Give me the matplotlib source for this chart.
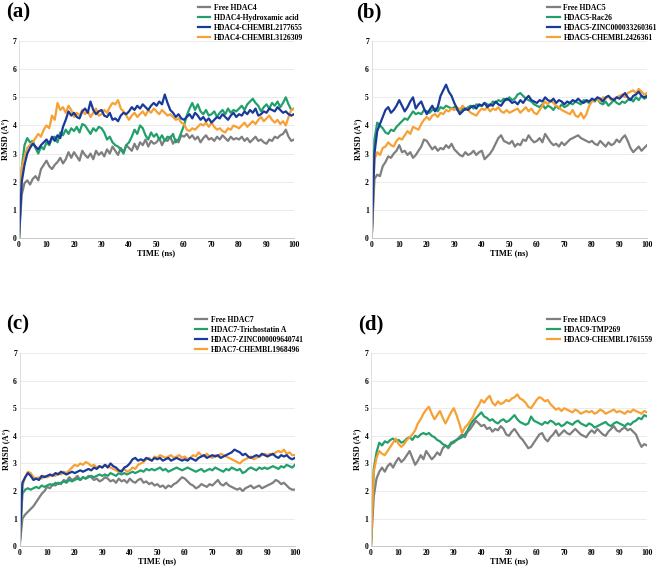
import matplotlib
matplotlib.use('Agg')
import matplotlib.pyplot as plt
import numpy as np

plt.rcParams['font.family'] = ['Liberation Serif', 'DejaVu Serif']
plt.rcParams['font.weight'] = 'bold'

time_ns = np.arange(0, 101, 1)

# ---- (a) HDAC4 ----
a_labels = ['Free HDAC4', 'HDAC4-Hydroxamic acid', 'HDAC4-CHEMBL2177655', 'HDAC4-CHEMBL3126309']
a_free = [0.00, 1.55, 1.95, 2.05, 1.90, 2.10, 2.20, 2.05, 2.45, 2.60,
          2.75, 2.55, 2.45, 2.60, 2.70, 2.85, 2.65, 2.80, 3.05, 2.85,
          3.05, 2.90, 2.75, 3.10, 2.95, 2.85, 3.00, 2.80, 3.10, 2.95,
          3.05, 2.90, 3.15, 3.00, 3.25, 3.10, 2.95, 3.20, 3.05, 3.30,
          3.20, 3.10, 3.35, 3.15, 3.40, 3.30, 3.50, 3.25, 3.45, 3.35,
          3.40, 3.55, 3.30, 3.50, 3.45, 3.60, 3.35, 3.50, 3.40, 3.65,
          3.60, 3.70, 3.55, 3.65, 3.50, 3.60, 3.40, 3.55, 3.65, 3.50,
          3.55, 3.45, 3.60, 3.50, 3.65, 3.55, 3.45, 3.60, 3.50, 3.55,
          3.50, 3.60, 3.45, 3.55, 3.40, 3.50, 3.60, 3.45, 3.50, 3.40,
          3.35, 3.50, 3.45, 3.60, 3.55, 3.65, 3.70, 3.85, 3.60, 3.45,
          3.50]
a_lig1 = [0.00, 2.50, 3.30, 3.55, 3.40, 3.45, 3.20, 3.00, 3.25, 3.15,
          3.40, 3.30, 3.55, 3.60, 3.40, 3.75, 3.65, 3.85, 3.70, 3.90,
          3.80, 3.95, 3.75, 4.05, 4.00, 3.85, 3.70, 3.90, 3.80, 3.95,
          3.90, 3.75, 3.50, 3.60, 3.40, 3.30, 3.25, 3.15, 3.00, 3.30,
          3.40, 3.60, 3.85, 3.70, 4.00, 3.90, 3.65, 3.50, 3.75, 3.60,
          3.70, 3.50, 3.65, 3.45, 3.60, 3.55, 3.70, 3.40, 3.50, 3.75,
          4.00, 4.35, 4.60, 4.80, 4.55, 4.75, 4.50, 4.40, 4.55, 4.35,
          4.40, 4.50, 4.30, 4.45, 4.55, 4.40, 4.60, 4.45, 4.55, 4.50,
          4.60, 4.70, 4.55, 4.75, 4.85, 4.95, 4.80, 4.70, 4.50, 4.65,
          4.75, 4.60, 4.80, 4.70, 4.85, 4.65, 4.80, 5.00, 4.75, 4.55,
          4.60]
a_lig2 = [0.00, 2.00, 2.60, 3.00, 3.20, 3.35, 3.25, 3.15, 3.30, 3.40,
          3.50, 3.35, 3.60, 3.45, 3.65, 3.55, 3.95, 4.20, 4.50, 4.35,
          4.45, 4.30, 4.25, 4.50, 4.60, 4.45, 4.85, 4.55, 4.40, 4.50,
          4.55, 4.35, 4.30, 4.45, 4.20, 4.25, 4.15, 4.35, 4.45, 4.40,
          4.50, 4.65, 4.55, 4.70, 4.60, 4.75, 4.65, 4.55, 4.70, 4.80,
          4.70, 4.85, 4.75, 5.10, 4.80, 4.55, 4.45, 4.30, 4.40, 4.25,
          4.20, 4.30, 4.40, 4.25, 4.45, 4.35, 4.20, 4.30, 4.15, 4.25,
          4.10, 4.20, 4.30, 4.25, 4.40, 4.30, 4.20, 4.35, 4.45, 4.30,
          4.40, 4.35, 4.50, 4.40, 4.55, 4.45, 4.60, 4.35, 4.40, 4.50,
          4.45, 4.60, 4.55, 4.50, 4.65, 4.55, 4.45, 4.50, 4.40, 4.35,
          4.40]
a_lig3 = [0.00, 2.50, 2.90, 3.20, 3.30, 3.40, 3.55, 3.70, 3.60, 3.85,
          4.00, 3.90, 4.35, 4.20, 4.80, 4.55, 4.65, 4.45, 4.70, 4.55,
          4.30, 4.45, 4.35, 4.55, 4.40, 4.50, 4.30, 4.45, 4.60, 4.35,
          4.40, 4.55, 4.45, 4.65, 4.80, 4.75, 4.90, 4.60, 4.50, 4.35,
          4.20, 4.35, 4.45, 4.30, 4.40, 4.50, 4.35, 4.55, 4.45, 4.60,
          4.50, 4.40, 4.55, 4.45, 4.35, 4.40, 4.30, 4.20, 4.25, 4.10,
          4.05, 3.85, 3.80, 3.90, 3.85, 3.95, 4.05, 4.00, 4.10, 3.95,
          4.10, 3.95, 3.85, 3.90, 3.80, 3.75, 3.90, 3.85, 4.00, 3.95,
          3.90, 4.00, 4.10, 3.95, 4.05, 4.15, 4.05, 4.20, 4.30, 4.15,
          4.25, 4.35, 4.20, 4.10, 4.20, 4.05, 4.15, 4.00, 4.30, 4.55,
          4.60]

# ---- (b) HDAC5 ----
b_labels = ['Free HDAC5', 'HDAC5-Rac26', 'HDAC5-ZINC000033260361', 'HDAC5-CHEMBL2426361']
b_free = [0.00, 2.10, 2.25, 2.20, 2.55, 2.70, 2.90, 2.85, 3.00, 3.10,
          3.30, 3.05, 3.10, 2.95, 3.05, 2.85, 2.95, 3.10, 3.25, 3.50,
          3.45, 3.30, 3.15, 3.25, 3.10, 3.20, 3.15, 3.30, 3.20, 3.35,
          3.15, 3.05, 2.95, 2.90, 3.05, 2.95, 3.00, 3.10, 2.95, 3.05,
          3.10, 2.80, 2.90, 3.00, 3.15, 3.35, 3.55, 3.65, 3.45, 3.40,
          3.35, 3.45, 3.25, 3.35, 3.30, 3.50, 3.45, 3.65, 3.50, 3.40,
          3.45, 3.55, 3.40, 3.70, 3.55, 3.40, 3.30, 3.35, 3.25, 3.40,
          3.30, 3.40, 3.50, 3.55, 3.60, 3.65, 3.55, 3.50, 3.45, 3.40,
          3.45, 3.35, 3.30, 3.45, 3.35, 3.25, 3.40, 3.30, 3.35, 3.50,
          3.40, 3.55, 3.65, 3.45, 3.20, 3.05, 3.15, 3.25, 3.10, 3.20,
          3.30]
b_lig1 = [0.00, 3.50, 4.10, 4.00, 3.90, 3.75, 3.70, 3.85, 3.80, 3.95,
          4.05, 4.15, 4.25, 4.20, 4.35, 4.50, 4.40, 4.45, 4.40, 4.55,
          4.50, 4.45, 4.55, 4.60, 4.50, 4.65, 4.60, 4.70, 4.65, 4.60,
          4.65, 4.55, 4.50, 4.60, 4.55, 4.65, 4.70, 4.60, 4.75, 4.70,
          4.70, 4.80, 4.75, 4.70, 4.85, 4.80, 4.90, 4.85, 4.95, 4.90,
          5.00, 4.90, 4.95, 5.10, 5.15, 5.05, 4.95, 4.90, 4.85, 4.75,
          4.70, 4.65, 4.75, 4.60, 4.70, 4.65, 4.55, 4.70, 4.60, 4.75,
          4.65, 4.70, 4.80, 4.75, 4.85, 4.80, 4.75, 4.90, 4.85, 4.80,
          4.90, 4.85, 4.95, 4.80, 4.75, 4.85, 4.70, 4.80, 4.90, 4.80,
          4.75, 4.85, 4.80, 4.90, 4.95, 4.85, 5.00, 4.90, 5.05, 4.95,
          5.00]
b_lig2 = [0.00, 3.00, 3.80, 4.05, 4.30, 4.55, 4.65, 4.45, 4.55, 4.70,
          4.90, 4.70, 4.50, 4.65, 4.85, 5.00, 4.60, 4.75, 4.85, 4.60,
          4.40, 4.55, 4.70, 4.50, 4.65, 5.05, 5.25, 5.45, 5.20, 5.05,
          4.80, 4.60, 4.40, 4.50, 4.60, 4.55, 4.65, 4.70, 4.60, 4.75,
          4.70, 4.80, 4.65, 4.75, 4.70, 4.85, 4.75, 4.70, 4.85, 4.95,
          4.90, 4.80, 4.85, 4.75, 4.90, 4.80, 4.95, 5.05, 4.90, 4.85,
          4.80, 4.90, 4.85, 5.00, 4.90, 4.85, 4.95, 4.80, 4.90, 4.85,
          4.75, 4.85, 4.80, 4.90, 4.85, 4.95, 4.85, 4.80, 4.90, 4.85,
          4.95, 4.90, 5.00, 4.95, 4.85, 5.00, 5.05, 4.95, 4.90, 5.00,
          4.95, 5.05, 5.15, 5.00, 4.90, 5.05, 5.10, 5.20, 5.05, 5.00,
          5.05]
b_lig3 = [0.00, 2.80, 3.05, 2.95, 3.20, 3.25, 3.40, 3.30, 3.25, 3.45,
          3.55, 3.50, 3.65, 3.80, 3.70, 3.95, 3.90, 3.85, 4.05, 4.20,
          4.30, 4.20, 4.35, 4.40, 4.30, 4.45, 4.40, 4.55, 4.50, 4.60,
          4.55, 4.65, 4.55, 4.70, 4.60, 4.55, 4.45, 4.40, 4.35, 4.50,
          4.60, 4.55, 4.65, 4.50, 4.60, 4.55, 4.65, 4.50, 4.45, 4.55,
          4.45, 4.50, 4.55, 4.60, 4.45, 4.55, 4.65, 4.50, 4.60, 4.45,
          4.40, 4.55, 4.70, 4.85, 4.75, 4.90, 4.80, 4.70, 4.65, 4.55,
          4.50, 4.45, 4.40, 4.55, 4.35, 4.30, 4.45, 4.25, 4.40, 4.70,
          4.85, 4.90, 4.95, 4.85, 5.00, 4.95, 5.05, 4.90, 4.95, 5.00,
          5.05, 5.10, 5.00, 5.15, 5.20, 5.25, 5.15, 5.30, 5.20, 5.10,
          5.15]

# ---- (c) HDAC7 ----
c_labels = ['Free HDAC7', 'HDAC7-Trichostatin A', 'HDAC7-ZINC000009640741', 'HDAC7-CHEMBL1968496']
c_free = [0.00, 1.00, 1.15, 1.25, 1.35, 1.45, 1.60, 1.75, 1.90, 2.00,
          2.15, 2.10, 2.25, 2.20, 2.30, 2.25, 2.40, 2.35, 2.50, 2.40,
          2.45, 2.55, 2.40, 2.50, 2.45, 2.55, 2.50, 2.40, 2.45, 2.35,
          2.40, 2.50, 2.45, 2.35, 2.40, 2.30, 2.45, 2.35, 2.40, 2.30,
          2.45, 2.35, 2.30, 2.40, 2.45, 2.30, 2.35, 2.25, 2.30, 2.20,
          2.25, 2.15, 2.20, 2.10, 2.20, 2.15, 2.25, 2.30, 2.40, 2.50,
          2.45, 2.35, 2.25, 2.20, 2.10, 2.15, 2.25, 2.20, 2.15, 2.25,
          2.20, 2.30, 2.40, 2.25, 2.20, 2.30, 2.20, 2.15, 2.10, 2.05,
          2.10, 2.00, 2.10, 2.15, 2.20, 2.10, 2.15, 2.20, 2.10, 2.15,
          2.20, 2.25, 2.30, 2.40, 2.35, 2.25, 2.30, 2.20, 2.10, 2.05,
          2.05]
c_lig1 = [0.00, 1.90, 2.05, 2.10, 2.05, 2.10, 2.15, 2.10, 2.20, 2.15,
          2.20, 2.25, 2.20, 2.30, 2.25, 2.30, 2.35, 2.30, 2.40, 2.35,
          2.40, 2.45, 2.40, 2.50, 2.45, 2.50, 2.55, 2.50, 2.55, 2.60,
          2.55, 2.60, 2.55, 2.65, 2.60, 2.55, 2.65, 2.60, 2.65, 2.60,
          2.65, 2.70, 2.65, 2.70, 2.75, 2.70, 2.80, 2.75, 2.80, 2.75,
          2.80, 2.85, 2.75, 2.80, 2.70, 2.75, 2.80, 2.85, 2.80, 2.75,
          2.80, 2.85, 2.80, 2.75, 2.70, 2.75, 2.80, 2.70, 2.75, 2.80,
          2.75, 2.85, 2.80, 2.75, 2.70, 2.80, 2.75, 2.85, 2.80, 2.75,
          2.80, 2.65, 2.70, 2.80, 2.85, 2.80, 2.75, 2.85, 2.80, 2.85,
          2.80, 2.85, 2.90, 2.85, 2.80, 2.90, 2.85, 2.95, 2.90, 2.85,
          2.95]
c_lig2 = [0.00, 2.30, 2.50, 2.65, 2.55, 2.40, 2.45, 2.40, 2.55, 2.50,
          2.55, 2.60, 2.55, 2.65, 2.60, 2.70, 2.65, 2.60, 2.65, 2.70,
          2.65, 2.70, 2.75, 2.70, 2.75, 2.80, 2.75, 2.85, 2.80, 2.90,
          2.85, 2.95, 2.85, 3.00, 2.90, 2.85, 2.75, 2.70, 2.85, 2.90,
          3.00, 3.15, 3.20, 3.10, 3.15, 3.10, 3.20, 3.15, 3.10, 3.20,
          3.15, 3.20, 3.10, 3.15, 3.20, 3.10, 3.15, 3.20, 3.15, 3.10,
          3.15, 3.10, 3.20, 3.15, 3.10, 3.20, 3.25, 3.30, 3.20, 3.25,
          3.30, 3.25, 3.30, 3.20, 3.25, 3.30, 3.35, 3.40, 3.50, 3.45,
          3.40, 3.30, 3.35, 3.25, 3.20, 3.25, 3.30, 3.25, 3.35, 3.30,
          3.25, 3.30, 3.35, 3.25, 3.20, 3.30, 3.25, 3.30, 3.20, 3.15,
          3.20]
c_lig3 = [0.00, 2.20, 2.50, 2.70, 2.65, 2.50, 2.45, 2.50, 2.45, 2.55,
          2.50, 2.55, 2.60, 2.55, 2.65, 2.60, 2.70, 2.65, 2.75, 2.85,
          2.95, 2.90, 3.00, 2.95, 3.05, 3.00, 2.90, 2.95, 2.85, 2.90,
          2.85, 2.95, 2.90, 2.85, 2.80, 2.75, 2.70, 2.75, 2.80, 2.70,
          2.75, 2.85, 2.80, 2.95, 3.00, 3.05, 3.15, 3.20, 3.10, 3.25,
          3.20, 3.30, 3.25, 3.20, 3.25, 3.30, 3.20, 3.25, 3.30, 3.20,
          3.25, 3.15, 3.20, 3.30, 3.25, 3.40, 3.30, 3.25, 3.35, 3.25,
          3.20, 3.30, 3.25, 3.35, 3.30, 3.25, 3.20, 3.15, 3.10, 3.05,
          3.00, 3.10, 3.15, 3.20, 3.25, 3.15, 3.20, 3.25, 3.30, 3.35,
          3.30, 3.35, 3.30, 3.40, 3.45, 3.40, 3.50, 3.35, 3.40, 3.30,
          3.30]

# ---- (d) HDAC9 ----
d_labels = ['Free HDAC9', 'HDAC9-TMP269', 'HDAC9-CHEMBL1761559']
d_free = [0.00, 1.80, 2.45, 2.70, 2.85, 2.70, 2.90, 3.00, 2.85, 3.05,
          3.20, 3.05, 3.15, 3.30, 3.45, 3.20, 2.95, 3.10, 3.30, 3.15,
          3.45, 3.30, 3.15, 3.25, 3.40, 3.30, 3.55, 3.65, 3.55, 3.70,
          3.75, 3.85, 3.95, 4.05, 3.95, 4.15, 4.25, 4.40, 4.55, 4.45,
          4.35, 4.40, 4.25, 4.30, 4.15, 4.25, 4.20, 4.35, 4.25, 4.05,
          4.00, 4.15, 4.25, 4.10, 3.95, 3.85, 3.70, 3.55, 3.60, 3.75,
          3.90, 4.05, 4.10, 3.90, 3.80, 3.95, 4.05, 4.20, 4.00, 4.10,
          4.20, 4.10, 4.05, 4.15, 4.25, 4.15, 4.05, 4.00, 3.95, 4.10,
          4.20, 4.10, 4.25, 4.15, 4.05, 4.00, 4.15, 4.25, 4.35, 4.20,
          4.15, 4.25, 4.30, 4.20, 4.25, 4.15, 4.05, 3.80, 3.60, 3.70,
          3.65]
d_lig1 = [0.00, 2.80, 3.40, 3.75, 3.65, 3.80, 3.75, 3.85, 3.90, 3.80,
          3.85, 3.75, 3.80, 3.90, 3.95, 3.85, 4.00, 3.95, 4.05, 4.10,
          4.05, 4.10, 4.00, 3.95, 3.85, 3.80, 3.70, 3.65, 3.60, 3.75,
          3.80, 3.85, 3.90, 3.95, 4.05, 4.20, 4.40, 4.55, 4.65, 4.75,
          4.85, 4.70, 4.65, 4.55, 4.60, 4.50, 4.45, 4.55, 4.60, 4.50,
          4.55, 4.65, 4.75, 4.60, 4.50, 4.45, 4.40, 4.45, 4.70, 4.55,
          4.50, 4.45, 4.40, 4.50, 4.45, 4.55, 4.50, 4.40, 4.45, 4.35,
          4.40, 4.50, 4.45, 4.40, 4.50, 4.55, 4.45, 4.40, 4.35, 4.45,
          4.40, 4.30, 4.35, 4.40, 4.45, 4.50, 4.40, 4.35, 4.45, 4.50,
          4.45, 4.40, 4.35, 4.45, 4.40, 4.50, 4.55, 4.65, 4.60, 4.75,
          4.70]
d_lig2 = [0.00, 2.70, 3.20, 3.45, 3.35, 3.30, 3.45, 3.60, 3.75, 3.90,
          3.70, 3.60, 3.70, 3.85, 3.95, 4.05, 4.20, 4.45, 4.60, 4.80,
          4.95, 5.05, 4.80, 4.60, 4.75, 4.90, 4.65, 4.45, 4.65, 4.85,
          5.00, 4.75, 4.45, 4.10, 4.30, 4.40, 4.55, 4.70, 4.95, 5.10,
          5.30, 5.20, 5.35, 5.45, 5.20, 5.10, 5.25, 5.15, 5.20, 5.30,
          5.25, 5.35, 5.40, 5.50, 5.35, 5.30, 5.20, 5.05, 5.00, 5.15,
          5.30, 5.40, 5.35, 5.25, 5.30, 5.15, 5.05, 4.95, 5.00, 4.90,
          5.00, 4.95, 4.90, 4.85, 4.95, 4.90, 4.80, 4.85, 4.90, 4.85,
          4.90, 4.80, 4.85, 4.95, 4.90, 4.80, 4.85, 4.90, 4.95, 4.85,
          4.90, 4.85, 4.80, 4.90, 4.85, 4.95, 4.90, 4.85, 4.80, 4.90,
          4.85]

c_gray = '#7f7f7f'
c_green = '#22a06b'
c_blue = '#1a3a9a'
c_orange = '#f7a134'

W, H = 6.6, 5.69
fig = plt.figure(figsize=(W, H), dpi=100)

panels = [
  # tag, axes rect, series, labels, tag pos, legend pos
  ('(a)', [0.0288, 0.5817, 0.4167, 0.3462], [a_free, a_lig1, a_lig3, a_lig2], a_labels,
   (0.009, 0.995), (0.296, 0.997)),
  ('(b)', [0.5632, 0.5817, 0.4171, 0.3462], [b_free, b_lig1, b_lig3, b_lig2], b_labels,
   (0.540, 0.995), (0.826, 0.997)),
  ('(c)', [0.0298, 0.0400, 0.4171, 0.3396], [c_free, c_lig1, c_lig3, c_lig2], c_labels,
   (0.009, 0.448), (0.292, 0.449)),
  ('(d)', [0.5621, 0.0400, 0.4182, 0.3396], [d_free, d_lig1, d_lig2], d_labels,
   (0.542, 0.448), (0.826, 0.449)),
]

for tag, rect, series, labels, tagpos, legpos in panels:
  ax = fig.add_axes(rect)
  if len(series) == 4:
    cols = [c_gray, c_green, c_orange, c_blue]
    order_labels = [labels[0], labels[1], labels[3], labels[2]]
  else:
    cols = [c_gray, c_green, c_orange]
    order_labels = labels
  handles = {}
  for s, col, lab in zip(series, cols, order_labels):
    h, = ax.plot(time_ns, s, color=col, lw=1.6, label=lab)
    handles[lab] = h
  ax.set_xlim(0, 100)
  ax.set_ylim(0, 7)
  ax.set_xticks(np.arange(0, 101, 10))
  ax.set_yticks(np.arange(0, 8, 1))
  ax.tick_params(labelsize=5.5, length=0, pad=2)
  ax.yaxis.grid(True, color='#e8e8e8', lw=0.6)
  ax.set_axisbelow(True)
  for sp in ['top', 'right']:
    ax.spines[sp].set_visible(False)
  ax.spines['left'].set_color('#d9d9d9')
  ax.spines['bottom'].set_color('#bfbfbf')
  ax.spines['left'].set_linewidth(0.6)
  ax.spines['bottom'].set_linewidth(0.6)
  ax.set_xlabel('TIME (ns)', fontsize=6, fontweight='bold', labelpad=0)
  ax.set_ylabel('RMSD (A°)', fontsize=6, fontweight='bold', labelpad=2)
  fig.text(tagpos[0], tagpos[1], tag, fontsize=15, fontweight='bold', va='top', ha='left')
  ax.legend([handles[l] for l in labels], labels, loc='upper left',
            bbox_to_anchor=legpos, bbox_transform=fig.transFigure,
            frameon=False, fontsize=5.5, handlelength=1.6, handletextpad=0.5,
            labelspacing=0.25, borderaxespad=0, borderpad=0.3)

fig.savefig('out.png', dpi=100)
